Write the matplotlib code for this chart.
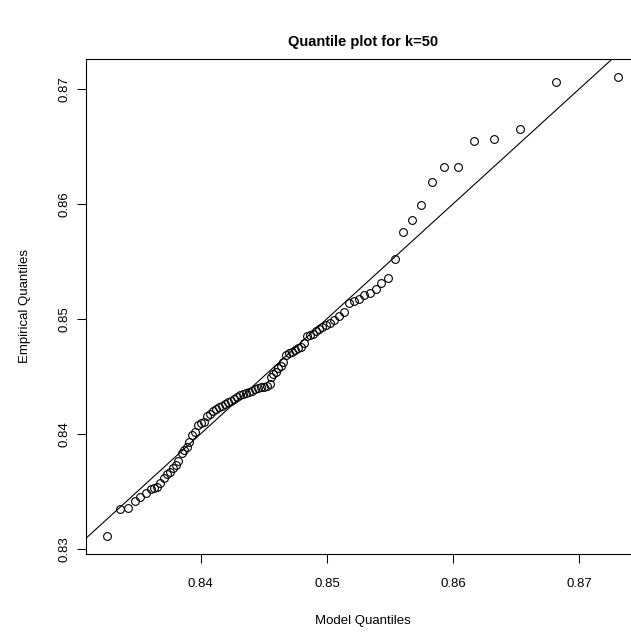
import matplotlib
matplotlib.use("Agg")
import matplotlib.pyplot as plt

plt.rcParams["font.family"] = ["Liberation Sans", "DejaVu Sans"]

# model quantiles (x) and empirical quantiles (y), both sorted
model_q = [
    0.83256, 0.83359, 0.83422, 0.83477, 0.83517, 0.83565, 0.83604, 0.83628,
    0.83652, 0.83675, 0.83707, 0.83731, 0.83755, 0.83778, 0.83802, 0.83818,
    0.83850, 0.83865, 0.83889, 0.83905, 0.83929, 0.83952, 0.83976, 0.84000,
    0.84024, 0.84048, 0.84071, 0.84095, 0.84119, 0.84143, 0.84166, 0.84190,
    0.84214, 0.84238, 0.84261, 0.84285, 0.84309, 0.84333, 0.84356, 0.84380,
    0.84404, 0.84428, 0.84451, 0.84475, 0.84499, 0.84523, 0.84546, 0.84554,
    0.84570, 0.84594, 0.84610, 0.84633, 0.84649, 0.84673, 0.84697, 0.84721,
    0.84744, 0.84768, 0.84792, 0.84816, 0.84839, 0.84863, 0.84887, 0.84911,
    0.84934, 0.84958, 0.84990, 0.85021, 0.85053, 0.85093, 0.85132, 0.85172,
    0.85211, 0.85251, 0.85291, 0.85338, 0.85386, 0.85425, 0.85481, 0.85536,
    0.85599, 0.85671, 0.85742, 0.85829, 0.85924, 0.86035, 0.86162, 0.86320,
    0.86526, 0.86811, 0.87310,
]
empirical_q = [
    0.83113, 0.83348, 0.83357, 0.83417, 0.83452, 0.83487, 0.83522, 0.83530,
    0.83539, 0.83574, 0.83617, 0.83652, 0.83670, 0.83704, 0.83730, 0.83765,
    0.83835, 0.83861, 0.83887, 0.83930, 0.83991, 0.84017, 0.84078, 0.84096,
    0.84104, 0.84157, 0.84174, 0.84200, 0.84217, 0.84235, 0.84243, 0.84261,
    0.84278, 0.84287, 0.84304, 0.84322, 0.84339, 0.84348, 0.84357, 0.84365,
    0.84374, 0.84391, 0.84400, 0.84409, 0.84409, 0.84417, 0.84435, 0.84496,
    0.84522, 0.84539, 0.84574, 0.84591, 0.84626, 0.84687, 0.84704, 0.84713,
    0.84730, 0.84748, 0.84757, 0.84791, 0.84852, 0.84861, 0.84870, 0.84896,
    0.84913, 0.84930, 0.84948, 0.84965, 0.84991, 0.85026, 0.85061, 0.85139,
    0.85157, 0.85174, 0.85209, 0.85226, 0.85261, 0.85313, 0.85357, 0.85522,
    0.85757, 0.85861, 0.85991, 0.86191, 0.86322, 0.86322, 0.86548, 0.86565,
    0.86652, 0.87061, 0.87104,
]

x_ticks = [0.84, 0.85, 0.86, 0.87]
y_ticks = [0.83, 0.84, 0.85, 0.86, 0.87]
x_tick_labels = ["0.84", "0.85", "0.86", "0.87"]
y_tick_labels = ["0.83", "0.84", "0.85", "0.86", "0.87"]

line_intercept = 0.0
line_slope = 1.0


def padded_range(vals, frac=0.04):
    lo, hi = min(vals), max(vals)
    d = (hi - lo) * frac
    return lo - d, hi + d


fig = plt.figure(figsize=(6.31, 6.34), dpi=100)
# plot region runs past the right edge, as in the cropped original
ax = fig.add_axes([0.137, 0.1262, 0.8756, 0.7815])

ax.plot(model_q, empirical_q, linestyle="none", marker="o", markersize=5.6,
        markerfacecolor="none", markeredgecolor="black", markeredgewidth=0.8)

xlim = padded_range(model_q)
ylim = padded_range(empirical_q)
ax.set_xlim(*xlim)
ax.set_ylim(*ylim)
x0 = model_q[0]
ax.axline((x0, line_intercept + line_slope * x0), slope=line_slope,
          color="black", linewidth=0.8)
ax.set_xlim(*xlim)
ax.set_ylim(*ylim)

ax.set_xticks(x_ticks)
ax.set_xticklabels(x_tick_labels)
ax.set_yticks(y_ticks)
ax.set_yticklabels(y_tick_labels, rotation=90, va="center")
ax.tick_params(direction="out", length=6.5, width=0.75, labelsize=9.5)
ax.tick_params(axis="x", pad=11)
ax.tick_params(axis="y", pad=5)

for s in ax.spines.values():
    s.set_linewidth(0.8)

ax.set_title("Quantile plot for k=50", fontsize=10.5, fontweight="bold", pad=9)
ax.set_xlabel("Model Quantiles", fontsize=9.5, labelpad=18)
ax.set_ylabel("Empirical Quantiles", fontsize=9.5, labelpad=20)

fig.savefig("out.png", dpi=100)
